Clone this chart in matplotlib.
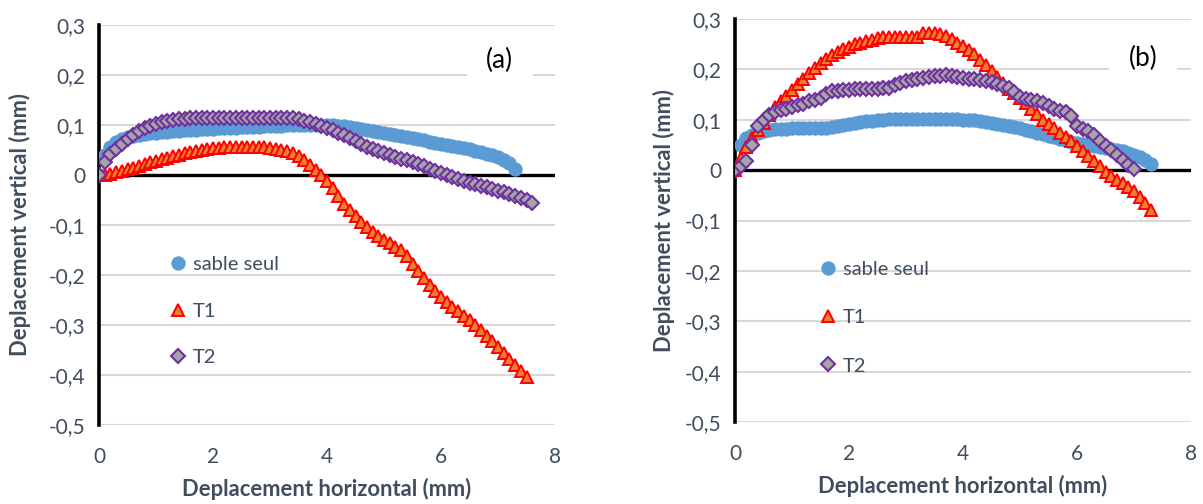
import matplotlib
matplotlib.use("Agg")
import matplotlib.pyplot as plt
from matplotlib.lines import Line2D

plt.rcParams['font.family'] = ['Lato', 'DejaVu Sans']

# Horizontal displacement grid (mm), shared by all series
x_grid = [0.0, 0.1, 0.2, 0.3, 0.4, 0.5, 0.6, 0.7, 0.8, 0.9,
          1.0, 1.1, 1.2, 1.3, 1.4, 1.5, 1.6, 1.7, 1.8, 1.9,
          2.0, 2.1, 2.2, 2.3, 2.4, 2.5, 2.6, 2.7, 2.8, 2.9,
          3.0, 3.1, 3.2, 3.3, 3.4, 3.5, 3.6, 3.7, 3.8, 3.9,
          4.0, 4.1, 4.2, 4.3, 4.4, 4.5, 4.6, 4.7, 4.8, 4.9,
          5.0, 5.1, 5.2, 5.3, 5.4, 5.5, 5.6, 5.7, 5.8, 5.9,
          6.0, 6.1, 6.2, 6.3, 6.4, 6.5, 6.6, 6.7, 6.8, 6.9,
          7.0, 7.1, 7.2, 7.3, 7.4, 7.5, 7.6]

# ---- (a) vertical displacement (mm)
sable_a = [0.000, 0.040, 0.057, 0.066, 0.072, 0.076, 0.079, 0.081, 0.083, 0.084,
           0.085, 0.086, 0.087, 0.088, 0.089, 0.090, 0.091, 0.091, 0.092, 0.093,
           0.093, 0.094, 0.094, 0.095, 0.095, 0.096, 0.096, 0.097, 0.097, 0.098,
           0.098, 0.099, 0.099, 0.100, 0.100, 0.101, 0.101, 0.101, 0.101, 0.101,
           0.100, 0.100, 0.099, 0.098, 0.097, 0.095, 0.093, 0.091, 0.089, 0.086,
           0.084, 0.082, 0.080, 0.078, 0.076, 0.074, 0.072, 0.070, 0.067, 0.065,
           0.063, 0.061, 0.059, 0.057, 0.054, 0.052, 0.049, 0.046, 0.043, 0.040,
           0.036, 0.031, 0.024, 0.013]
t1_a = [0.000, 0.001, 0.003, 0.006, 0.009, 0.012, 0.015, 0.018, 0.022, 0.026,
        0.029, 0.032, 0.035, 0.038, 0.041, 0.044, 0.046, 0.048, 0.050, 0.052,
        0.054, 0.055, 0.056, 0.057, 0.057, 0.057, 0.057, 0.057, 0.057, 0.056,
        0.055, 0.053, 0.051, 0.048, 0.044, 0.038, 0.030, 0.021, 0.011, 0.000,
        -0.012, -0.026, -0.042, -0.057, -0.070, -0.082, -0.093, -0.104, -0.114, -0.122,
        -0.129, -0.136, -0.143, -0.150, -0.162, -0.177, -0.192, -0.206, -0.219, -0.232,
        -0.243, -0.253, -0.263, -0.272, -0.281, -0.290, -0.300, -0.310, -0.321, -0.332,
        -0.344, -0.356, -0.368, -0.380, -0.392, -0.404]
t2_a = [0.000, 0.026, 0.042, 0.052, 0.063, 0.073, 0.081, 0.088, 0.094, 0.099,
        0.103, 0.106, 0.109, 0.111, 0.112, 0.113, 0.114, 0.114, 0.115, 0.115,
        0.115, 0.115, 0.115, 0.115, 0.115, 0.115, 0.115, 0.115, 0.115, 0.115,
        0.115, 0.115, 0.115, 0.115, 0.114, 0.112, 0.109, 0.106, 0.102, 0.098,
        0.094, 0.090, 0.085, 0.080, 0.075, 0.069, 0.063, 0.057, 0.053, 0.048,
        0.045, 0.041, 0.037, 0.033, 0.030, 0.026, 0.022, 0.018, 0.013, 0.009,
        0.005, 0.000, -0.004, -0.008, -0.012, -0.015, -0.018, -0.021, -0.024, -0.027,
        -0.031, -0.034, -0.038, -0.042, -0.046, -0.050, -0.055]

# ---- (b) vertical displacement (mm)
sable_b = [0.000, 0.050, 0.064, 0.070, 0.074, 0.077, 0.079, 0.081, 0.082, 0.082,
           0.083, 0.083, 0.083, 0.083, 0.083, 0.083, 0.083, 0.085, 0.087, 0.089,
           0.092, 0.094, 0.096, 0.097, 0.098, 0.099, 0.100, 0.101, 0.101, 0.102,
           0.102, 0.102, 0.102, 0.102, 0.102, 0.102, 0.102, 0.102, 0.101, 0.101,
           0.100, 0.100, 0.099, 0.097, 0.096, 0.094, 0.092, 0.090, 0.088, 0.086,
           0.083, 0.080, 0.077, 0.074, 0.071, 0.068, 0.065, 0.062, 0.059, 0.056,
           0.053, 0.051, 0.049, 0.047, 0.045, 0.043, 0.041, 0.039, 0.037, 0.034,
           0.030, 0.026, 0.020, 0.012]
t1_b = [0.000, 0.025, 0.045, 0.063, 0.079, 0.094, 0.110, 0.125, 0.137, 0.148,
        0.159, 0.170, 0.181, 0.192, 0.202, 0.212, 0.220, 0.228, 0.234, 0.240,
        0.245, 0.250, 0.253, 0.256, 0.259, 0.262, 0.264, 0.265, 0.265, 0.265,
        0.265, 0.265, 0.265, 0.272, 0.273, 0.272, 0.270, 0.266, 0.260, 0.253,
        0.246, 0.239, 0.230, 0.219, 0.208, 0.196, 0.184, 0.173, 0.162, 0.153,
        0.144, 0.133, 0.122, 0.111, 0.100, 0.092, 0.083, 0.074, 0.065, 0.057,
        0.048, 0.038, 0.028, 0.018, 0.008, -0.004, -0.012, -0.019, -0.026, -0.033,
        -0.042, -0.053, -0.066, -0.080]
t2_b = [0.000, 0.008, 0.019, 0.050, 0.088, 0.100, 0.110, 0.115, 0.119, 0.122,
        0.125, 0.129, 0.132, 0.137, 0.140, 0.144, 0.152, 0.157, 0.158, 0.159,
        0.160, 0.161, 0.162, 0.162, 0.162, 0.162, 0.163, 0.164, 0.168, 0.173,
        0.176, 0.178, 0.180, 0.182, 0.184, 0.186, 0.187, 0.188, 0.187, 0.185,
        0.183, 0.181, 0.180, 0.179, 0.177, 0.174, 0.171, 0.167, 0.163, 0.156,
        0.146, 0.142, 0.139, 0.137, 0.134, 0.128, 0.122, 0.118, 0.115, 0.108,
        0.088, 0.082, 0.077, 0.070, 0.058, 0.047, 0.039, 0.030, 0.020, 0.010,
        0.002]

series_names = ['sable seul', 'T1', 'T2']
x_ticks = [0, 2, 4, 6, 8]
x_ticklabels = ['0', '2', '4', '6', '8']
y_ticks = [-0.5, -0.4, -0.3, -0.2, -0.1, 0.0, 0.1, 0.2, 0.3]
y_ticklabels = ['-0,5', '-0,4', '-0,3', '-0,2', '-0,1', '0', '0,1', '0,2', '0,3']

TXT = '#404D5E'
styles = [
    dict(marker='o', ms=9.5, mfc='#5B9BD5', mec='#5B9BD5', mew=0.8),
    dict(marker='^', ms=9, mfc='#ED7D31', mec='#FF0000', mew=1.4),
    dict(marker='D', ms=7.3, mfc='#A5A5A5', mec='#7030A0', mew=1.5),
]

fig = plt.figure(figsize=(12.03, 5.04), dpi=100)
panels = [
    dict(rect=[99/1203, 1-425/504, 456/1203, 400/504], data=[sable_a, t1_a, t2_a],
         tag='(a)', tag_xy=(0.879, 0.9125), leg_xy=(0.137, 0.442), ylab_x=-0.149,
         spacing=1.45),
    dict(rect=[735/1203, 1-422/504, 456/1203, 403/504], data=[sable_b, t1_b, t2_b],
         tag='(b)', tag_xy=(0.895, 0.903), leg_xy=(0.168, 0.42), ylab_x=-0.1315,
         spacing=1.55),
]

for p in panels:
    ax = fig.add_axes(p['rect'])
    for name, ys, st in zip(series_names, p['data'], styles):
        ax.plot(x_grid[:len(ys)], ys, linestyle='none', label=name, **st)
    ax.set_xlim(0, 8)
    ax.set_ylim(-0.5, 0.3)
    ax.set_xticks(x_ticks)
    ax.set_xticklabels(x_ticklabels)
    ax.set_yticks(y_ticks)
    ax.set_yticklabels(y_ticklabels)
    ax.tick_params(length=0, labelsize=15, colors=TXT)
    ax.tick_params(axis='x', pad=16)
    ax.tick_params(axis='y', pad=10)
    ax.yaxis.grid(True, color='#D9D9D9', linewidth=1.5)
    ax.set_axisbelow(True)
    for s in ['top', 'right', 'bottom']:
        ax.spines[s].set_visible(False)
    ax.spines['left'].set_linewidth(2.6)
    ax.spines['left'].set_color('black')
    ax.spines['left'].set_zorder(1.5)
    ax.axhline(0, color='black', linewidth=2.4, zorder=1.5)
    ax.set_xlabel('Deplacement horizontal (mm)', fontsize=15.8, fontweight='bold',
                  color=TXT, labelpad=8)
    ax.set_ylabel('Deplacement vertical (mm)', fontsize=15.8, fontweight='bold',
                  color=TXT)
    ax.yaxis.set_label_coords(p['ylab_x'], 0.5)
    ax.text(*p['tag_xy'], p['tag'], transform=ax.transAxes, fontsize=19,
            ha='center', va='center', color='black',
            bbox=dict(facecolor='white', edgecolor='none', pad=14))
    handles = [Line2D([], [], linestyle='none', **st) for st in styles]
    ax.legend(handles, series_names, loc='upper left', bbox_to_anchor=p['leg_xy'],
              frameon=False, fontsize=14.5, labelcolor=TXT, handlelength=0.8,
              handletextpad=0.35, labelspacing=p['spacing'], borderaxespad=0)

fig.savefig('out.png', dpi=100)
